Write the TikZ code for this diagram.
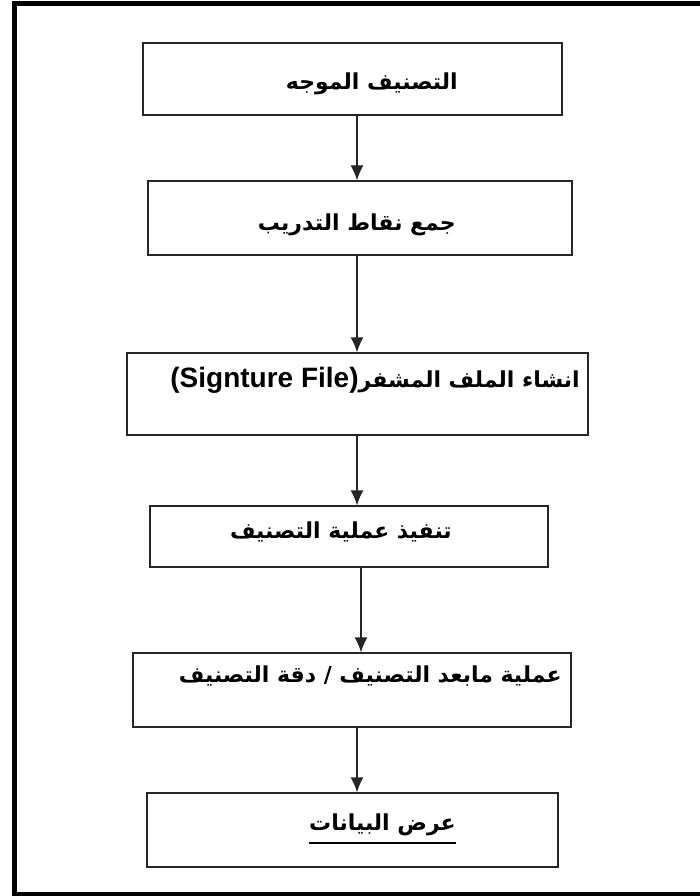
\documentclass[tikz,border=0pt]{standalone}
\usepackage{fontspec}
\newfontfamily\arabicfont[Script=Arabic]{DejaVu Sans}
\newfontfamily\latinfont{Liberation Sans}
\TeXXeTstate=1
\usetikzlibrary{arrows.meta}

\tikzset{
  stepbox/.style={draw=black!85, line width=1.3pt, inner sep=0pt},
  steptext/.style={anchor=base east, inner sep=0pt, font=\arabicfont\bfseries\fontsize{22}{26}\selectfont},
  flow/.style={draw=black!85, line width=1.3pt, -{Latex[length=15pt,width=13pt]}},
}

\begin{document}
\begin{tikzpicture}[x=1pt,y=-1pt]
    \useasboundingbox (0,0) rectangle (700,896);
    \draw[line width=5pt] (14,3.5) rectangle (712,894.5);

    \node[stepbox, minimum width=419pt, minimum height=72pt] (b1) at (352.5,79) {};
    \node[stepbox, minimum width=424pt, minimum height=74pt] (b2) at (360,218) {};
    \node[stepbox, minimum width=461pt, minimum height=82pt] (b3) at (357.5,394) {};
    \node[stepbox, minimum width=398pt, minimum height=61pt] (b4) at (349,536.5) {};
    \node[stepbox, minimum width=438pt, minimum height=74pt] (b5) at (352,690) {};
    \node[stepbox, minimum width=411pt, minimum height=74pt] (b6) at (352.5,830) {};

    \node[steptext] (t1) at (458,90) {\beginR التصنيف الموجه\endR};
    \node[steptext] (t2) at (456,230) {\beginR جمع نقاط التدريب\endR};
    \node[steptext] (t3) at (580,387) {\beginR انشاء الملف المشفر\beginL{\latinfont\bfseries\fontsize{28}{30}\selectfont (Signture File)}\endL\endR};
    \node[steptext] (t4) at (452,538) {\beginR تنفيذ عملية التصنيف\endR};
    \node[steptext] (t5) at (562,682) {\beginR عملية مابعد التصنيف / دقة التصنيف\endR};
    \node[steptext] (t6) at (456,830) {\beginR عرض البيانات\endR};
    \draw[line width=1.2pt] ([yshift=-13pt]t6.base west) -- ([yshift=-13pt]t6.base east);

    \coordinate (ax) at (357,0);
    \coordinate (ay) at (361,0);
    \draw[flow] (b1.south -| ax) -- (b2.north -| ax);
    \draw[flow] (b2.south -| ax) -- (b3.north -| ax);
    \draw[flow] (b3.south -| ax) -- (b4.north -| ax);
    \draw[flow] (b4.south -| ay) -- (b5.north -| ay);
    \draw[flow] (b5.south -| ax) -- (b6.north -| ax);
\end{tikzpicture}
\end{document}
